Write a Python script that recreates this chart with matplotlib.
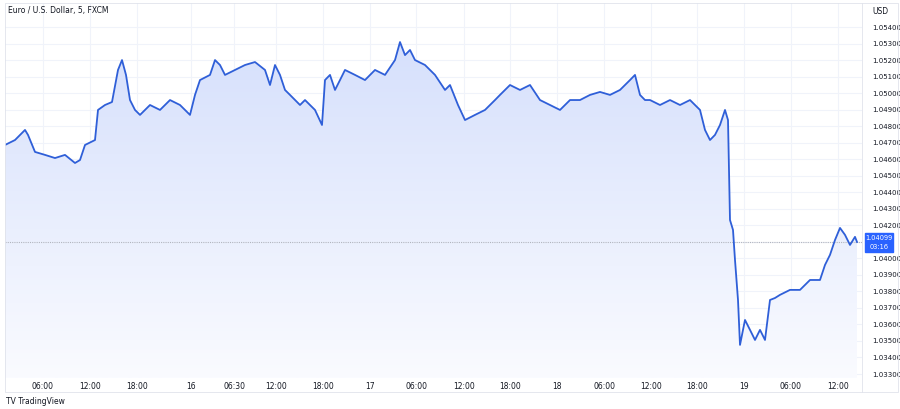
import numpy as np
import matplotlib
matplotlib.use("Agg")
import matplotlib.pyplot as plt
from matplotlib.patches import Rectangle
from matplotlib.colors import LinearSegmentedColormap

# pixel x -> hours since 15 00:00
px = [5,15,25,28,35,45,55,65,75,80,85,95,98,105,112,118,122,126,130,135,140,150,160,170,180,190,195,200,210,215,220,225,235,245,255,265,270,275,280,285,290,300,305,315,322,325,330,335,340,345,355,365,375,385,395,400,405,410,415,425,435,445,450,458,465,475,485,495,500,510,520,530,540,550,560,570,580,590,600,610,620,630,635,640,645,650,660,670,680,690,700,705,710,715,720,725,728,730,733,735,738,740,745,750,755,760,765,770,775,780,790,800,810,820,825,830,835,840,845,850,855,857]
hours = [(x + 3.8) / 7.8 for x in px]
prices = [1.04686,1.04716,1.04777,1.04747,1.04644,1.04626,1.04607,1.04626,1.04577,1.04595,1.04686,1.04716,1.04898,1.04928,1.04946,1.05140,1.05200,1.05110,1.04958,1.04898,1.04868,1.04928,1.04898,1.04958,1.04928,1.04868,1.04989,1.05079,1.05110,1.05200,1.05170,1.05110,1.05140,1.05170,1.05188,1.05140,1.05049,1.05170,1.05110,1.05019,1.04989,1.04928,1.04958,1.04898,1.04807,1.05079,1.05110,1.05019,1.05079,1.05140,1.05110,1.05079,1.05140,1.05110,1.05200,1.05309,1.05230,1.05261,1.05200,1.05170,1.05110,1.05019,1.05049,1.04928,1.04837,1.04868,1.04898,1.04958,1.04989,1.05049,1.05019,1.05049,1.04958,1.04928,1.04898,1.04958,1.04958,1.04989,1.05007,1.04989,1.05019,1.05079,1.05110,1.04989,1.04958,1.04958,1.04928,1.04958,1.04928,1.04958,1.04898,1.04777,1.04716,1.04747,1.04807,1.04898,1.04837,1.04232,1.04172,1.03990,1.03748,1.03476,1.03627,1.03567,1.03506,1.03567,1.03506,1.03748,1.03760,1.03779,1.03809,1.03809,1.03869,1.03869,1.03960,1.04021,1.04111,1.04184,1.04142,1.04081,1.04130,1.04099]
tick_labels = ["06:00","12:00","18:00","16","06:30","12:00","18:00","17","06:00","12:00","18:00","18","06:00","12:00","18:00","19","06:00","12:00"]
tick_px = [43,90,137,191,234,276,323,370,416,464,510,557,604,651,697,744,791,838]
y_ticks = [1.033 + 0.001*i for i in range(22)]
last = 1.04099

W, H = 900, 409
fig = plt.figure(figsize=(W/100, H/100), dpi=100)
x0, x1 = 5/W, 862/W
top_px, bot_px = 3, 378
ax = fig.add_axes([x0, 1-bot_px/H, x1-x0, (bot_px-top_px)/H])
xmin = (5+3.8)/7.8; xmax = (862+3.8)/7.8
ymax = 1.054 + (27-top_px)/16524
ymin = 1.054 - (bot_px-27)/16524
ax.set_xlim(xmin, xmax); ax.set_ylim(ymin, ymax)

tick_h = [(p+3.8)/7.8 for p in tick_px]
for t in tick_h:
    ax.axvline(t, color="#f0f3fa", lw=0.8, zorder=0)
for v in y_ticks:
    ax.axhline(v, color="#f0f3fa", lw=0.8, zorder=0)

grad = np.linspace(0, 1, 256).reshape(-1, 1)
cmap = LinearSegmentedColormap.from_list("g", ["#fafbff", "#d6e0fc"])
im = ax.imshow(grad, extent=[xmin, xmax, ymin, max(prices)], origin="lower", aspect="auto", cmap=cmap, zorder=1)
clip = plt.Polygon(np.column_stack([hours + hours[::-1], prices + [ymin]*len(prices)]), transform=ax.transData)
im.set_clip_path(clip)
ax.plot(hours, prices, color="#2f5fd8", lw=1.3, zorder=3)
ax.axhline(last, color="#b2b5be", lw=0.8, ls=(0, (1, 1)), zorder=2)

ax.set_xticks(tick_h); ax.set_xticklabels(tick_labels, fontsize=5.5, color="#131722")
ax.yaxis.tick_right()
ylabels = ["" if abs(v - 1.041) < 1e-9 else f"{v:.5f}" for v in y_ticks]
ax.set_yticks(y_ticks); ax.set_yticklabels(ylabels, fontsize=5, color="#131722")
ax.tick_params(axis="y", length=0, pad=7)
ax.tick_params(axis="x", length=0, pad=3)
for s in ax.spines.values():
    s.set_visible(False)
fig.patches.append(Rectangle((5/W, 1-392/H), 893/W, 389/H, transform=fig.transFigure, fill=False, ec="#e0e3eb", lw=0.6))
fig.lines.append(plt.Line2D([862/W, 862/W], [1-392/H, 1-3/H], transform=fig.transFigure, color="#e0e3eb", lw=0.6))

fig.text(8/W, 1-10/H, "Euro / U.S. Dollar, 5, FXCM", fontsize=5.5, va="center", color="#131722")
fig.text(872/W, 1-11/H, "USD", fontsize=5.5, va="center", color="#131722")
fig.text(6/W, 1-401/H, "TV TradingView", fontsize=5.5, va="center", color="#131722")
fig.patches.append(Rectangle((865/W, 1-252/H), 28/W, 19/H, transform=fig.transFigure, color="#2962ff"))
fig.text(879/W, 1-238/H, "1.04099", fontsize=4.8, ha="center", va="center", color="white")
fig.text(879/W, 1-247/H, "03:16", fontsize=4.8, ha="center", va="center", color="white")
fig.savefig("out.png", dpi=100)
